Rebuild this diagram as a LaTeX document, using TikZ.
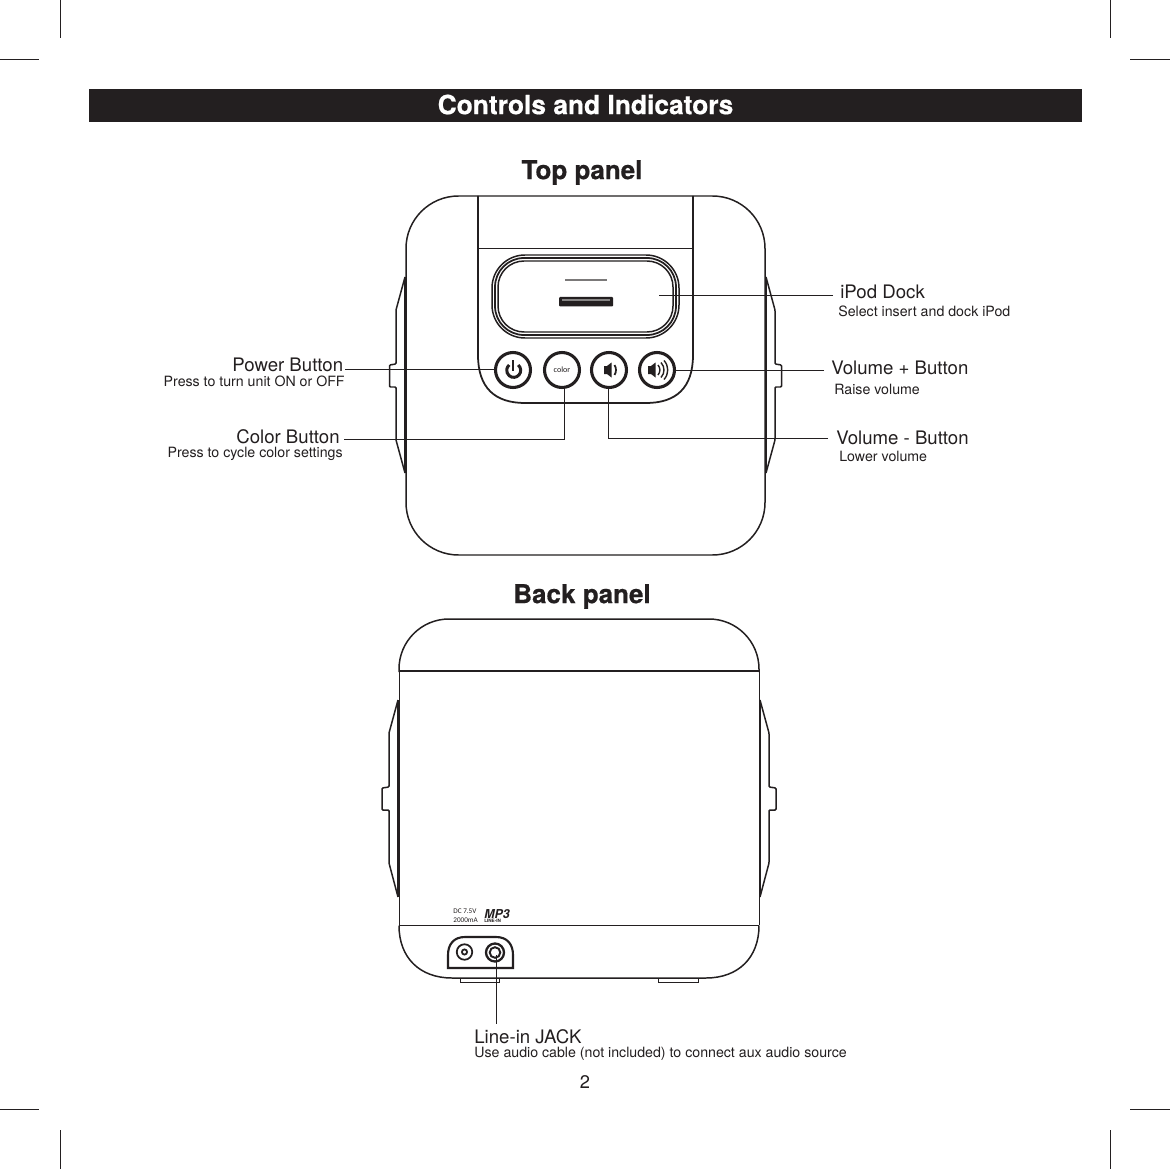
\documentclass[tikz,border=0pt]{standalone}
\usepackage{fontspec}
\setmainfont{TeX Gyre Heros}
\newfontfamily\smallsans{Carlito}
\newfontfamily\heavyfont[BoldFeatures={FakeBold=0.6}]{TeX Gyre Heros}
\definecolor{ink}{HTML}{231F20}
\tikzset{
  x=0.02cm,y=-0.02cm,
  outline/.style={draw=ink,line width=0.85pt},
  thin line/.style={draw=ink,line width=0.5pt},
  sidebar/.style={draw=ink,line width=1.5pt},
  crop/.style={draw=ink,line width=0.45pt},
  leader/.style={draw=ink,line width=0.5pt},
  big label/.style={text=ink,font=\fontsize{10.6pt}{12pt}\selectfont,inner sep=0pt},
  small label/.style={text=ink,font=\fontsize{8.07pt}{10pt}\selectfont,inner sep=0pt},
  section label/.style={text=ink,font=\heavyfont\bfseries\fontsize{14.8pt}{18pt}\selectfont,inner sep=0pt},
  knob/.style={circle,draw=ink,line width=1.75pt,minimum size=0.70cm,inner sep=0pt},
  icon/.style={fill=ink,draw=none},
  stroke icon/.style={draw=ink,line width=0.8pt},
}
\begin{document}
\begin{tikzpicture}
\useasboundingbox (0,0) rectangle (1170,1169);
\fill[white] (0,0) rectangle (1170,1169);
% crop marks
\draw[crop] (60,0)--(60,38) (0,59)--(39,59) (1110,0)--(1110,38) (1130,59)--(1170,59)
  (0,1109)--(39,1109) (60,1130)--(60,1169) (1110,1130)--(1110,1169) (1130,1109)--(1170,1109);
% title bar
\fill[ink] (89,89) rectangle (1082,122);
\node[inner sep=0pt,text=white,font=\heavyfont\bfseries\fontsize{15pt}{18pt}\selectfont] (title) at (585.5,104.5) {Controls and Indicators};
\node[section label] (toplabel) at (582,172.5) {Top panel};
\node[section label] (backlabel) at (582,596.5) {Back panel};
\node[inner sep=0pt,text=ink,font=\fontsize{10.4pt}{12pt}\selectfont] (pageno) at (585,1082) {2};

% TOP PANEL
\draw[outline,rounded corners=1.05cm] (406,196) rectangle (765,555);
% tower
\draw[outline,line width=1pt] (478,196) -- (478,355) .. controls (478,388) and (495,403) .. (525,403)
   -- (646,403) .. controls (676,403) and (693,388) .. (693,355) -- (693,196);
\draw[thin line] (478,248) -- (693,248);
% dock
\draw[outline,rounded corners=0.66cm] (492,255) rectangle (679,338);
\draw[outline,line width=1pt,rounded corners=0.58cm] (495,258) rectangle (676,335);
\draw[outline,rounded corners=0.52cm] (498,261) rectangle (673,332);
\draw[draw=ink!60,line width=1.7pt] (565,280) -- (607,280);
\fill[ink,rounded corners=0.02cm] (559,297) rectangle (613,306.5);
\fill[ink!55] (562,299.5) rectangle (610,301.5);
% side tabs
\draw[sidebar] (405,277) -- (405,473);
\draw[outline,rounded corners=0.02cm] (405,277) -- (396,310) -- (396,364) -- (389.5,365) -- (389.5,387) -- (396,387) -- (396,440) -- (405,473);
\draw[sidebar] (766,277) -- (766,473);
\draw[outline,rounded corners=0.02cm] (766,277) -- (775,310) -- (775,364) -- (781.5,365) -- (781.5,387) -- (775,387) -- (775,440) -- (766,473);
% buttons
\node[knob] (power) at (513,370) {};
\node[knob,text=ink] (colorbtn) at (562,370) {\fontsize{4.6pt}{5pt}\smallsans color};
\node[knob] (voldown) at (609,370) {};
\node[knob] (volup) at (657,370) {};
% power icon
\draw[stroke icon,line width=1.7pt] (518.2,365) arc[start angle=50,end angle=-230,radius=0.14cm];
\draw[stroke icon,line width=1.7pt] (513,360) -- (513,371);
% speaker small
\fill[icon] (604,366) -- (607,366) -- (611.5,362.5) -- (611.5,377.5) -- (607,374) -- (604,374) -- cycle;
\draw[stroke icon,line width=1pt] (614.5,365) .. controls (616.5,368) and (616.5,372) .. (614.5,375);
% speaker large
\fill[icon] (648,366) -- (651,366) -- (655.5,362.5) -- (655.5,377.5) -- (651,374) -- (648,374) -- cycle;
\draw[stroke icon] (658,365) .. controls (660.5,368) and (660.5,372) .. (658,375);
\draw[stroke icon] (661,362.5) .. controls (665,367) and (665,373) .. (661,377.5);
\draw[stroke icon] (664,360.5) .. controls (669,366) and (669,374) .. (664,379.5);

% labels
\node[big label,anchor=base east] (powerlabel) at (343.5,371.5) {Power Button};
\node[small label,anchor=base east] at (345,386) {Press to turn unit ON or OFF};
\node[big label,anchor=base east] (colorlabel) at (340,443.5) {Color Button};
\node[small label,anchor=base east] at (343,457) {Press to cycle color settings};
\node[big label,anchor=base west] (dock label) at (840,298) {iPod Dock};
\node[small label,anchor=base west] at (838,316.5) {Select insert and dock iPod};
\node[big label,anchor=base west] (voluplabel) at (831,375) {Volume + Button};
\node[small label,anchor=base west] at (834,394) {Raise volume};
\node[big label,anchor=base west] (voldownlabel) at (836,444) {Volume - Button};
\node[small label,anchor=base west] at (839,461) {Lower volume};
% connectors
\coordinate (powerend) at (345,369);
\coordinate (colorend) at (344,439);
\coordinate (voldownend) at (828,438);
\coordinate (volupend) at (824,370);
\coordinate (dockend) at (833,295);
\coordinate (dockstart) at (659,295);
\draw[leader] (powerend) -- (power.west |- powerend);
\draw[leader] (colorend) -- (564,439) -- (564,388);
\draw[leader] (voldownend) -- (608,438) -- (608,388);
\draw[leader] (volupend) -- (volup.east |- volupend);
\draw[leader] (dockend) -- (dockstart);

% BACK PANEL
\draw[outline] (399,672) -- (399,669) arc[start angle=180,end angle=90,x radius=50,y radius=-50] -- (709,619) arc[start angle=90,end angle=0,x radius=50,y radius=-50] -- (759,672);
\draw[outline] (399,671) -- (759,671);
\draw[thin line,line width=0.4pt] (399,671) -- (399,925) (759,671) -- (759,925);
\draw[outline,line width=1pt] (399,925.5) -- (759,925.5);
\draw[outline] (399,925.5) .. controls (399,958) and (420,978) .. (452,978) -- (706,978) .. controls (738,978) and (759,958) .. (759,925.5);
% feet
\draw[thin line] (460,978) -- (460,982) -- (499,982) -- (499,978);
\draw[thin line] (658,978) -- (658,982) -- (698,982) -- (698,978);
% back tabs
\draw[sidebar] (398,700) -- (398,897);
\draw[outline,rounded corners=0.02cm] (398,700) -- (389,733) -- (389,787) -- (382,788) -- (382,810) -- (389,810) -- (389,863) -- (398,897);
\draw[sidebar] (760,700) -- (760,897);
\draw[outline,rounded corners=0.02cm] (760,700) -- (769,733) -- (769,787) -- (776,788) -- (776,810) -- (769,810) -- (769,863) -- (760,897);
% jack panel
\draw[draw=ink,line width=1.2pt] (448,968) -- (448,955) .. controls (448,944) and (454,937) .. (465,937) -- (496,937) .. controls (507,937) and (513,944) .. (513,955) -- (513,968) -- cycle;
\node[circle,draw=ink,line width=1pt,minimum size=0.31cm,inner sep=0pt] (dcjack) at (464.5,952) {};
\draw[ink,line width=1pt] (dcjack.center) circle[radius=2.6];
\node[circle,draw=ink,line width=1.3pt,minimum size=0.36cm,inner sep=0pt] (linejack) at (495,952.5) {};
\draw[ink,line width=1.1pt] (linejack.center) circle[radius=5.3];
\node[inner sep=0pt,text=ink,align=left,anchor=north west,font=\fontsize{4.1pt}{5.2pt}\smallsans] (dclabel) at (453,908) {DC 7.5V\\2000mA};
\node[inner sep=0pt,text=ink,anchor=base west,font=\heavyfont\bfseries\itshape\fontsize{7pt}{8pt}\selectfont] (mplogo) at (484,918) {MP3};
\node[inner sep=0pt,text=ink,anchor=base west,font=\bfseries\fontsize{2.6pt}{3pt}\selectfont] (mpsub) at (484,922.5) {LINE-IN};
\node[big label,anchor=base west] (linelabel) at (474,1043) {Line-in JACK};
\node[small label,anchor=base west] at (474,1057) {Use audio cable (not included) to connect aux audio source};
\coordinate (linestart) at (496,955);
\coordinate (lineend) at (496,1024);
\draw[leader] (linestart) -- (lineend);
\end{tikzpicture}
\end{document}
